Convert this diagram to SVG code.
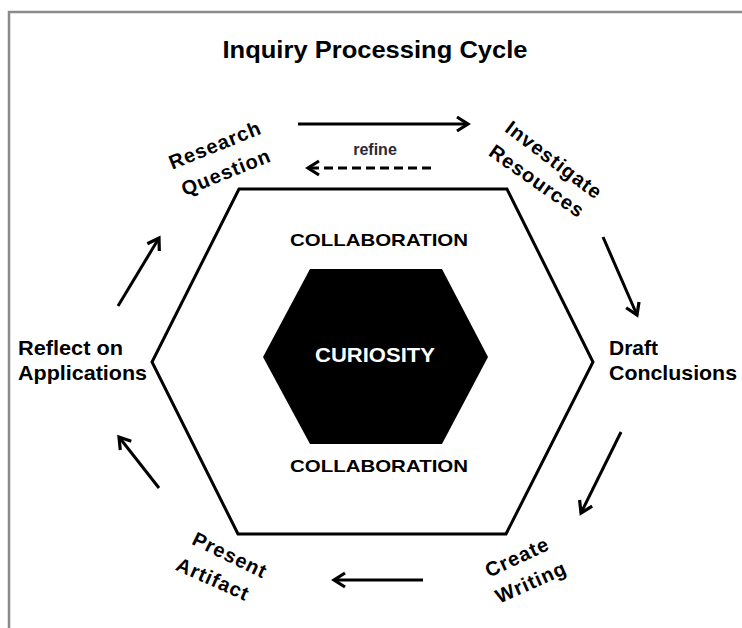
<svg xmlns="http://www.w3.org/2000/svg" width="742" height="628" viewBox="0 0 742 628">
  <style>
    .lbl { font-family: "Liberation Sans", Arial, sans-serif; font-weight: bold; fill: #000; }
    .stage { font-size: 20px; text-anchor: middle; letter-spacing: 1px; }
    .side { font-size: 21px; }
    .col { font-size: 17px; text-anchor: middle; }
    .core { fill: #fff; font-size: 20px; text-anchor: middle; }
    .note { fill: #2a2a33; font-size: 16px; text-anchor: middle; }
    .conn { stroke: #000; stroke-width: 3; fill: none; marker-end: url(#arrow); }
    .dash { stroke-dasharray: 9 5; }
  </style>
  <defs>
    <marker id="arrow" markerUnits="userSpaceOnUse" markerWidth="20" markerHeight="20" viewBox="-14 -10 20 20" refX="0" refY="0" orient="auto">
      <path d="M-11,-7 L0,0 L-11,7" fill="none" stroke="#000" stroke-width="3.2" stroke-linejoin="miter"/>
    </marker>
  </defs>

  <rect width="742" height="628" fill="#fff"/>
  <g id="frame">
    <path d="M9,628 L9,12 L742,12" fill="none" stroke="#8a8a8a" stroke-width="2.5"/>
  </g>

  <g id="title">
    <text class="lbl" x="375" y="58" font-size="23" text-anchor="middle" textLength="305" lengthAdjust="spacingAndGlyphs">Inquiry Processing Cycle</text>
  </g>

  <g id="outer-hexagon">
    <polygon points="239,189 507,189 593,362 506,534 238,534 152,362" fill="#fff" stroke="#000" stroke-width="3"/>
  </g>

  <g id="collaboration-top">
    <text class="lbl col" x="379" y="246" textLength="178" lengthAdjust="spacingAndGlyphs">COLLABORATION</text>
  </g>
  <g id="collaboration-bottom">
    <text class="lbl col" x="379" y="472" textLength="178" lengthAdjust="spacingAndGlyphs">COLLABORATION</text>
  </g>

  <g id="curiosity">
    <polygon points="310,269 442,269 488,357 442,444 310,444 263,357" fill="#000"/>
    <text class="lbl core" x="375" y="362" textLength="120" lengthAdjust="spacingAndGlyphs">CURIOSITY</text>
  </g>

  <g id="research-question">
    <text class="lbl stage" transform="translate(215,145) rotate(-22)" y="7">Research</text>
    <text class="lbl stage" transform="translate(226,172) rotate(-22)" y="7">Question</text>
  </g>

  <g id="investigate-resources">
    <text class="lbl stage" transform="translate(554,160) rotate(37)" y="7">Investigate</text>
    <text class="lbl stage" transform="translate(537,181) rotate(35)" y="7">Resources</text>
  </g>

  <g id="draft-conclusions">
    <text class="lbl side" x="609" y="355">Draft</text>
    <text class="lbl side" x="609" y="380" textLength="128" lengthAdjust="spacingAndGlyphs">Conclusions</text>
  </g>

  <g id="create-writing">
    <text class="lbl stage" transform="translate(517,557) rotate(-25)" y="7">Create</text>
    <text class="lbl stage" transform="translate(531,582) rotate(-24)" y="7">Writing</text>
  </g>

  <g id="present-artifact">
    <text class="lbl stage" transform="translate(230,555) rotate(26)" y="7">Present</text>
    <text class="lbl stage" transform="translate(213,579) rotate(24)" y="7">Artifact</text>
  </g>

  <g id="reflect-on-applications">
    <text class="lbl side" x="18" y="355" textLength="105" lengthAdjust="spacingAndGlyphs">Reflect on</text>
    <text class="lbl side" x="18" y="380" textLength="129" lengthAdjust="spacingAndGlyphs">Applications</text>
  </g>

  <g id="connectors">
    <line class="conn" x1="298" y1="124" x2="468" y2="124"/>
    <line class="conn dash" x1="431" y1="168" x2="308" y2="168"/>
    <text class="lbl note" x="375" y="155">refine</text>
    <line class="conn" x1="603" y1="237" x2="637" y2="315"/>
    <line class="conn" x1="621" y1="432" x2="581" y2="513"/>
    <line class="conn" x1="423" y1="580" x2="334" y2="580"/>
    <line class="conn" x1="159" y1="488" x2="119" y2="437"/>
    <line class="conn" x1="118" y1="306" x2="159" y2="238"/>
  </g>
</svg>
